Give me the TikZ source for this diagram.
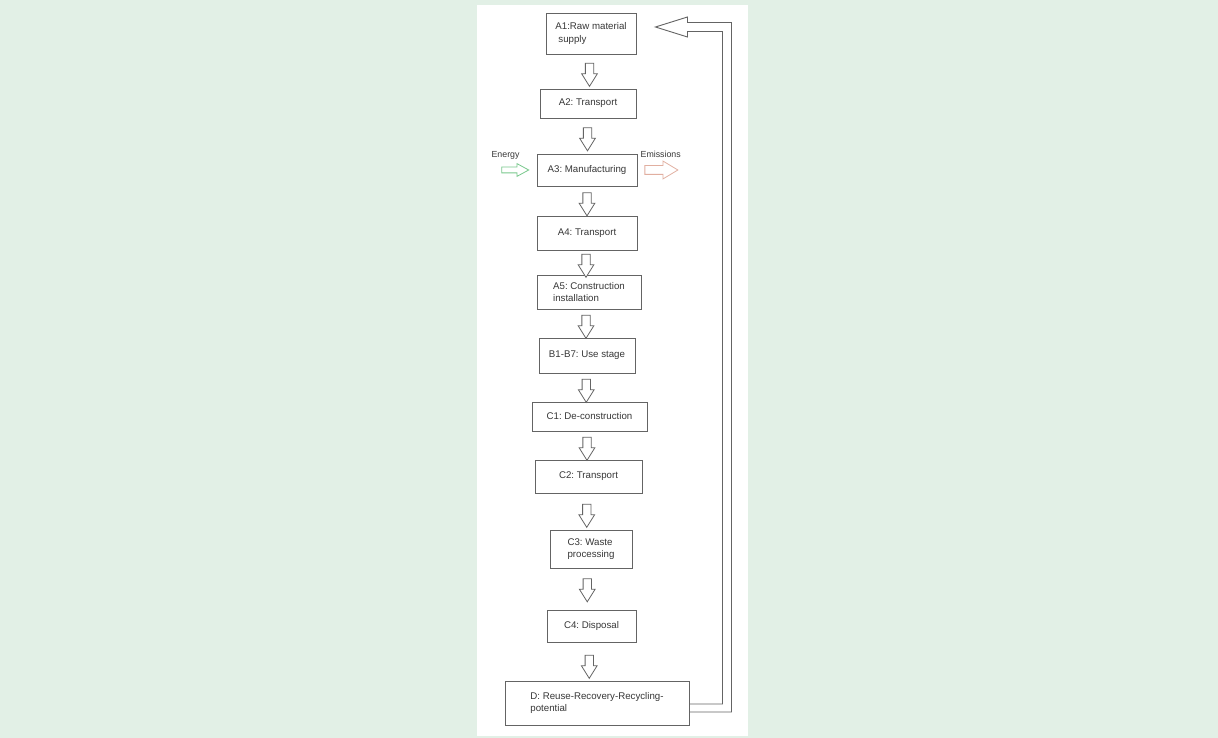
\documentclass[tikz,border=0pt]{standalone}
\usepackage{fontspec}
\setmainfont{Liberation Sans}
\usetikzlibrary{shapes.arrows,positioning,calc}
\definecolor{bggreen}{RGB}{226,240,230}
\definecolor{linegray}{RGB}{100,100,100}
\definecolor{textgray}{RGB}{55,55,55}
\definecolor{energygreen}{RGB}{120,200,140}
\definecolor{emisspink}{RGB}{225,175,160}
\frenchspacing

\begin{document}
\begin{tikzpicture}[x=1pt,y=-1pt,
  stagebox/.style={draw=linegray, line width=0.9pt, align=left, text=textgray,
    font=\fontsize{9.7}{12.5}\selectfont, inner sep=2pt},
  downarrow/.style={single arrow, draw=linegray, line width=0.8pt, fill=white,
    rotate=-90, minimum height=23pt, minimum width=15pt, inner sep=3.75pt,
    single arrow head extend=3.75pt, single arrow tip angle=64},
  sidelabel/.style={text=textgray, font=\fontsize{8.8}{10}\selectfont, inner sep=1pt}]

\fill[bggreen] (0,0) rectangle (1218,738);
\fill[white] (477,5) rectangle (748,736);
\useasboundingbox (0,0) rectangle (1218,738);

% life cycle stages
\node[stagebox, minimum width=90pt, minimum height=41pt] (a1) at (591,33.5) {A1:Raw material\\\hspace*{3pt}supply};
\node[stagebox, minimum width=96pt, minimum height=29pt] (a2) at (588,103.5) {A2: Transport};
\node[stagebox, minimum width=100pt, minimum height=32pt] (a3) at (587,170) {A3: Manufacturing};
\node[stagebox, minimum width=100pt, minimum height=34pt] (a4) at (587,233) {A4: Transport};
\node[stagebox, minimum width=104pt, minimum height=34pt] (a5) at (589,292) {A5: Construction\\installation};
\node[stagebox, minimum width=96pt, minimum height=35pt] (b) at (587,355.5) {B1-B7: Use stage};
\node[stagebox, minimum width=115pt, minimum height=29pt] (c1) at (589.5,416.5) {C1: De-construction};
\node[stagebox, minimum width=107pt, minimum height=33pt] (c2) at (588.5,476.5) {C2: Transport};
\node[stagebox, minimum width=82pt, minimum height=38pt] (c3) at (591,549) {C3: Waste\\processing};
\node[stagebox, minimum width=89pt, minimum height=32pt] (c4) at (591.5,626) {C4: Disposal};
\node[stagebox, minimum width=184pt, minimum height=44pt] (d) at (597,703) {D: Reuse-Recovery-Recycling-\\potential};

% arrows between stages
\node[downarrow] (ar1) at ($(a1.south)!.5!(a2.north)$) {};
\node[downarrow] (ar2) at ($(a2.south)!.5!(a3.north)$) {};
\node[downarrow] (ar3) at ($(a3.south)!.5!(a4.north)$) {};
\node[downarrow] (ar4) at ($(a4.south)!.5!(a5.north)+(-2,0)$) {};
\node[downarrow] (ar5) at ($(a5.south)!.5!(b.north)+(-2,0)$) {};
\node[downarrow] (ar6) at ($(b.south)!.5!(c1.north)+(-2,0)$) {};
\node[downarrow] (ar7) at ($(c1.south)!.5!(c2.north)+(-2,0)$) {};
\node[downarrow] (ar8) at ($(c2.south)!.5!(c3.north)+(-3,1)$) {};
\node[downarrow] (ar9) at ($(c3.south)!.5!(c4.north)+(-4,-2)$) {};
\node[downarrow] (ar10) at ($(c4.south)!.5!(d.north)+(-5,2)$) {};

% energy in, emissions out
\node[single arrow, draw=energygreen, line width=0.8pt, minimum height=27pt, minimum width=12pt,
  inner sep=2.5pt, single arrow head extend=3.5pt, single arrow tip angle=57, left=7pt of a3] (energy) {};
\node[single arrow, draw=emisspink, line width=0.8pt, minimum height=33pt, minimum width=17pt,
  inner sep=4pt, single arrow head extend=4.5pt, single arrow tip angle=62, right=7pt of a3] (emiss) {};
\node[sidelabel, above=6pt of energy, xshift=-7pt] (energylbl) {Energy};
\node[sidelabel, above=6pt of emiss, xshift=3pt] (emisslbl) {Emissions};

% feedback from D back to A1
\draw[linegray, line width=0.9pt] ($(d.east)+(0,1)$) -- ++(33,0) |- ($(a1.east)+(51,-2)$) -- ++(0,5.5)
  -- ($(a1.east)+(19,-6.5)$) -- ($(a1.east)+(51,-16.5)$) -- ++(0,5.5) -| ($(d.east)+(42,9)$)
  -- ($(d.east)+(0,9)$);

\end{tikzpicture}
\end{document}
